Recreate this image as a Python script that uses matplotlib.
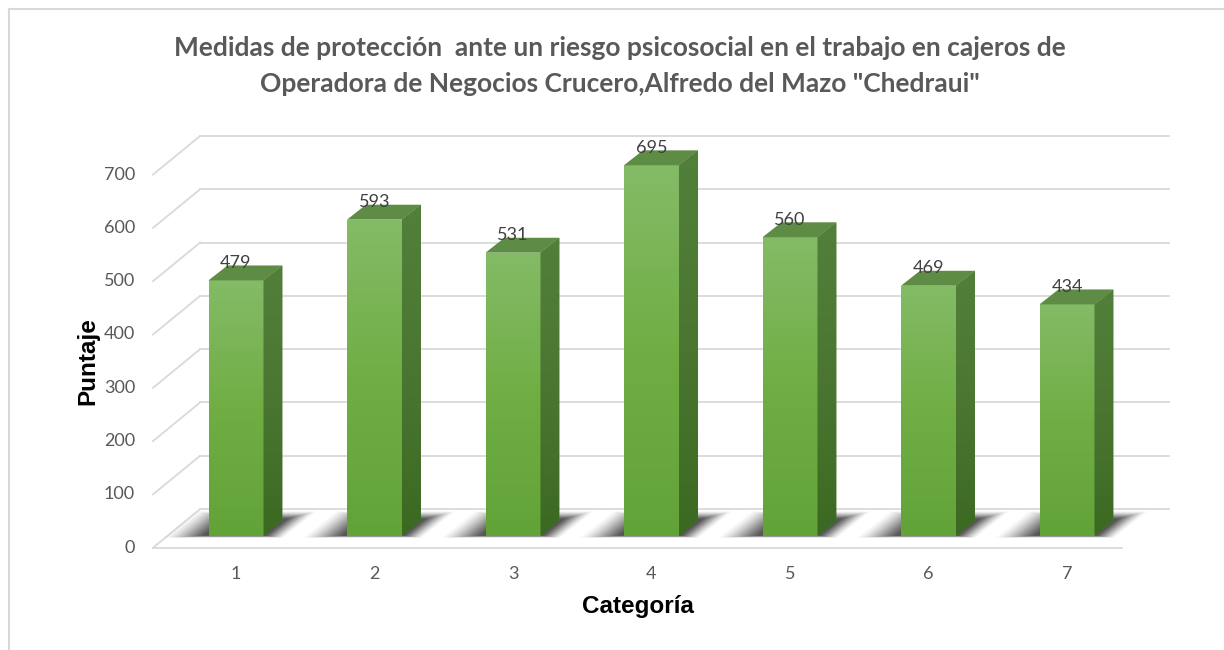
import numpy as np
import matplotlib
matplotlib.use('Agg')
import matplotlib.pyplot as plt
from matplotlib.patches import Polygon
from matplotlib.colors import LinearSegmentedColormap
from matplotlib.lines import Line2D

# ---------------- data ----------------
categories = ['1', '2', '3', '4', '5', '6', '7']
values = [479, 593, 531, 695, 560, 469, 434]
yticks = [0, 100, 200, 300, 400, 500, 600, 700]
title = ('Medidas de protección  ante un riesgo psicosocial en el trabajo en cajeros de\n'
         'Operadora de Negocios Crucero,Alfredo del Mazo "Chedraui"')
xlabel = 'Categoría'
ylabel = 'Puntaje'

# ---------------- layout ----------------
W, H = 1224, 650
fig = plt.figure(figsize=(W / 100, H / 100), dpi=100)
fig.patch.set_facecolor('white')
ax = fig.add_axes([0, 0, 1, 1])
ax.set_axis_off()

X0PX, XSTEP = 236, 138.5      # pixel of category 1, pixel per category
Y0PX, YSCALE = 535.7, 0.533   # pixel of bar base, pixel per unit
xlim = (1 - X0PX / XSTEP, 1 + (W - X0PX) / XSTEP)
ylim = ((Y0PX - H) / YSCALE, Y0PX / YSCALE)

NARROW = ['Lato', 'DejaVu Sans']
GRID = '#d9d9d9'
TXT = '#595959'

# 3-D box geometry (in data units)
FRONT_Y, BACK_Y = -22.5, 50.0
LEFT_X, RIGHT_X = 0.401, 7.397
DX = 0.34
BW, DDX, DDY = 0.397, 0.137, 28.0

# back wall gridlines and left-side diagonals
for t in yticks:
    ax.add_line(Line2D([LEFT_X + DX, RIGHT_X + DX], [t + BACK_Y] * 2,
                       color=GRID, lw=1.3, zorder=1))
    ax.add_line(Line2D([LEFT_X, LEFT_X + DX], [t + FRONT_Y, t + BACK_Y],
                       color=GRID, lw=1.3, zorder=1))
    ax.text(LEFT_X - 0.13, t + FRONT_Y, str(t), ha='right', va='center',
            fontsize=13, color=TXT, family=NARROW)
# front floor edge
ax.add_line(Line2D([LEFT_X, RIGHT_X], [FRONT_Y] * 2, color=GRID, lw=1.3, zorder=1))

front_cmap = LinearSegmentedColormap.from_list('f', ['#62a338', '#70ae44', '#84bb67'])
side_cmap = LinearSegmentedColormap.from_list('s', ['#3c6922', '#4a7631', '#52803b'])
grad = np.linspace(0, 1, 256).reshape(-1, 1)

xs = np.arange(1, len(values) + 1)

# blurred shadows on the floor
sl = DDX / DDY
for x in xs:
    n = 18
    for k in range(n):
        s = k / (n - 1)
        y0 = -4 + 4 * s
        y1 = DDY + 18 - 14 * s
        xl = x - BW / 2 - 0.30 + 0.26 * s
        xr = x + BW / 2 + 0.16 - 0.14 * s
        poly = [(xl + y0 * sl, y0), (xr + y0 * sl, y0),
                (xr + y1 * sl, y1), (xl + y1 * sl, y1)]
        ax.add_patch(Polygon(poly, closed=True, facecolor='black',
                             edgecolor='none', alpha=0.02 + 0.07 * s, zorder=2))

bars = ax.bar(xs, values, width=BW, bottom=0, color='#70ae44', zorder=3,
              linewidth=0)
for x, v, b in zip(xs, values, bars):
    im = ax.imshow(grad, extent=[x - BW / 2, x + BW / 2, 0, v], origin='lower',
                   aspect='auto', cmap=front_cmap, zorder=3.1)
    im.set_clip_path(b)
    # right face
    side = Polygon([(x + BW / 2, 0), (x + BW / 2 + DDX, DDY),
                    (x + BW / 2 + DDX, v + DDY), (x + BW / 2, v)],
                   closed=True, facecolor='#4a7631', edgecolor='none', zorder=3)
    ax.add_patch(side)
    im2 = ax.imshow(grad, extent=[x + BW / 2, x + BW / 2 + DDX, 0, v + DDY],
                    origin='lower', aspect='auto', cmap=side_cmap, zorder=3.1)
    im2.set_clip_path(side)
    # top face
    ax.add_patch(Polygon([(x - BW / 2, v), (x + BW / 2, v),
                          (x + BW / 2 + DDX, v + DDY), (x - BW / 2 + DDX, v + DDY)],
                         closed=True, facecolor='#5e8c45', edgecolor='none', zorder=3.2))
    # value label
    ax.text(x, v + DDY - 10, str(v), ha='center', va='bottom', fontsize=13,
            color='#404040', family=NARROW, zorder=5)

# category labels
for x, c in zip(xs, categories):
    ax.text(x, (Y0PX - 574) / YSCALE, c, ha='center', va='center',
            fontsize=13, color=TXT, family=NARROW)

ax.set_xlim(*xlim)
ax.set_ylim(*ylim)

# titles and axis labels (figure pixel coordinates)
fig.text(620 / W, 1 - 66 / H, title, ha='center', va='center', fontsize=19,
         fontweight='bold', color=TXT, family=NARROW, linespacing=1.58)
fig.text(638 / W, 1 - 606 / H, xlabel, ha='center', va='center', fontsize=17.5,
         fontweight='bold', color='black', family=['Liberation Sans', 'DejaVu Sans'])
fig.text(88 / W, 1 - 361 / H, ylabel, ha='center', va='center', fontsize=17.5,
         fontweight='bold', color='black', rotation=90,
         family=['Liberation Sans', 'DejaVu Sans'])

# chart border (left and top)
fig.add_artist(Line2D([8.5 / W, 8.5 / W], [0, 1 - 8.5 / H], color=GRID, lw=1.5,
                      transform=fig.transFigure))
fig.add_artist(Line2D([8.5 / W, 1], [1 - 8.5 / H, 1 - 8.5 / H], color=GRID, lw=1.5,
                      transform=fig.transFigure))

fig.savefig('out.png', dpi=100, facecolor='white')
